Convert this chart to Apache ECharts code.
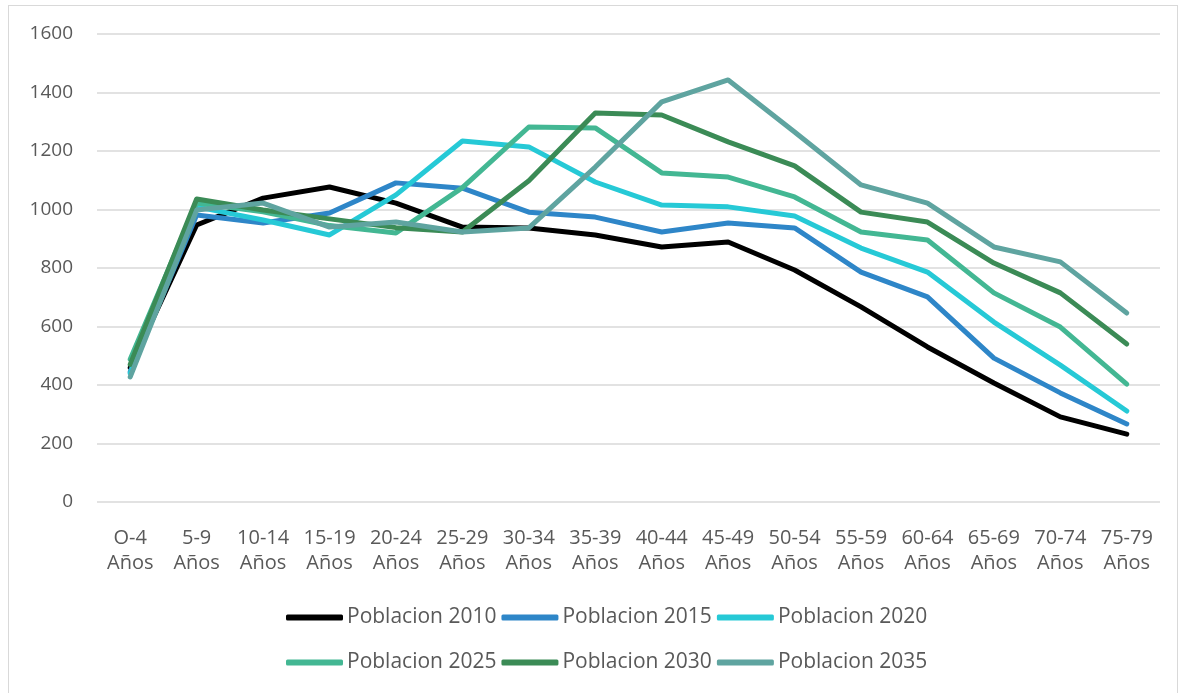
<!DOCTYPE html>
<html>
<head>
<meta charset="utf-8">
<script src="https://cdn.jsdelivr.net/npm/echarts@6/dist/echarts.min.js"></script>
<style>
  html, body { margin: 0; padding: 0; background: #fff; }
  .frame {
    position: absolute; left: 8px; top: 5px; width: 1170px; height: 700px;
    border: 1px solid #d9d9d9; box-sizing: border-box;
  }
  #chart { position: absolute; left: 0; top: 0; width: 1186px; height: 693px; }
</style>
</head>
<body>
<div class="frame"></div>
<div id="chart"></div>
<script>
const categories = ['O-4\nAños', '5-9\nAños', '10-14\nAños', '15-19\nAños', '20-24\nAños', '25-29\nAños',
  '30-34\nAños', '35-39\nAños', '40-44\nAños', '45-49\nAños', '50-54\nAños', '55-59\nAños',
  '60-64\nAños', '65-69\nAños', '70-74\nAños', '75-79\nAños']

const pob2010 = [460, 947, 1039, 1077, 1022, 940, 937, 913, 872, 889, 793, 667, 530, 407, 291, 232]
const pob2015 = [445, 981, 954, 988, 1091, 1073, 991, 974, 923, 954, 937, 786, 701, 492, 373, 267]
const pob2020 = [440, 1009, 964, 913, 1050, 1234, 1214, 1094, 1015, 1009, 978, 868, 786, 615, 468, 311]
const pob2025 = [488, 1022, 992, 945, 920, 1075, 1282, 1279, 1125, 1111, 1043, 923, 896, 715, 598, 403]
const pob2030 = [470, 1036, 998, 968, 938, 923, 1098, 1330, 1323, 1231, 1149, 991, 957, 817, 715, 540]
const pob2035 = [428, 998, 1022, 940, 957, 923, 937, 1145, 1368, 1443, 1265, 1084, 1022, 872, 821, 646]

const names = ['Poblacion 2010', 'Poblacion 2015', 'Poblacion 2020', 'Poblacion 2025', 'Poblacion 2030', 'Poblacion 2035']
const colors = ['#000000', '#2E86C8', '#26C9D6', '#43B793', '#3B8B56', '#5FA4A0']
const values = [pob2010, pob2015, pob2020, pob2025, pob2030, pob2035]

const textColor = '#595959'
const font = '"Open Sans", "Liberation Sans", sans-serif'

const legendBase = {
  icon: 'roundRect', itemWidth: 57, itemHeight: 6, itemGap: 5, left: 281,
  textStyle: { color: textColor, fontSize: 21, fontFamily: font, padding: [0, 0, 0, -1] }
}

const chart = echarts.init(document.getElementById('chart'))
chart.setOption({
  animation: false,
  textStyle: { fontFamily: font },
  grid: { left: 97, right: 26, top: 34, bottom: 191 },
  legend: [
    { ...legendBase, data: names.slice(0, 3), top: 602 },
    { ...legendBase, data: names.slice(3), top: 647 }
  ],
  xAxis: {
    type: 'category',
    data: categories,
    boundaryGap: true,
    axisLine: { show: false },
    axisTick: { show: false },
    axisLabel: { color: textColor, fontSize: 20, lineHeight: 25, margin: 24, interval: 0, fontFamily: font }
  },
  yAxis: {
    type: 'value',
    min: 0, max: 1600, interval: 200,
    axisLine: { show: false },
    axisTick: { show: false },
    axisLabel: { color: textColor, fontSize: 19, margin: 24, fontFamily: font, formatter: v => String(v) },
    splitLine: { lineStyle: { color: '#d9d9d9', width: 1.5 } }
  },
  series: names.map((name, i) => ({
    name,
    type: 'line',
    data: values[i],
    showSymbol: false,
    symbol: 'none',
    color: colors[i],
    lineStyle: { color: colors[i], width: 5, cap: 'round', join: 'round' }
  }))
})
</script>
</body>
</html>
